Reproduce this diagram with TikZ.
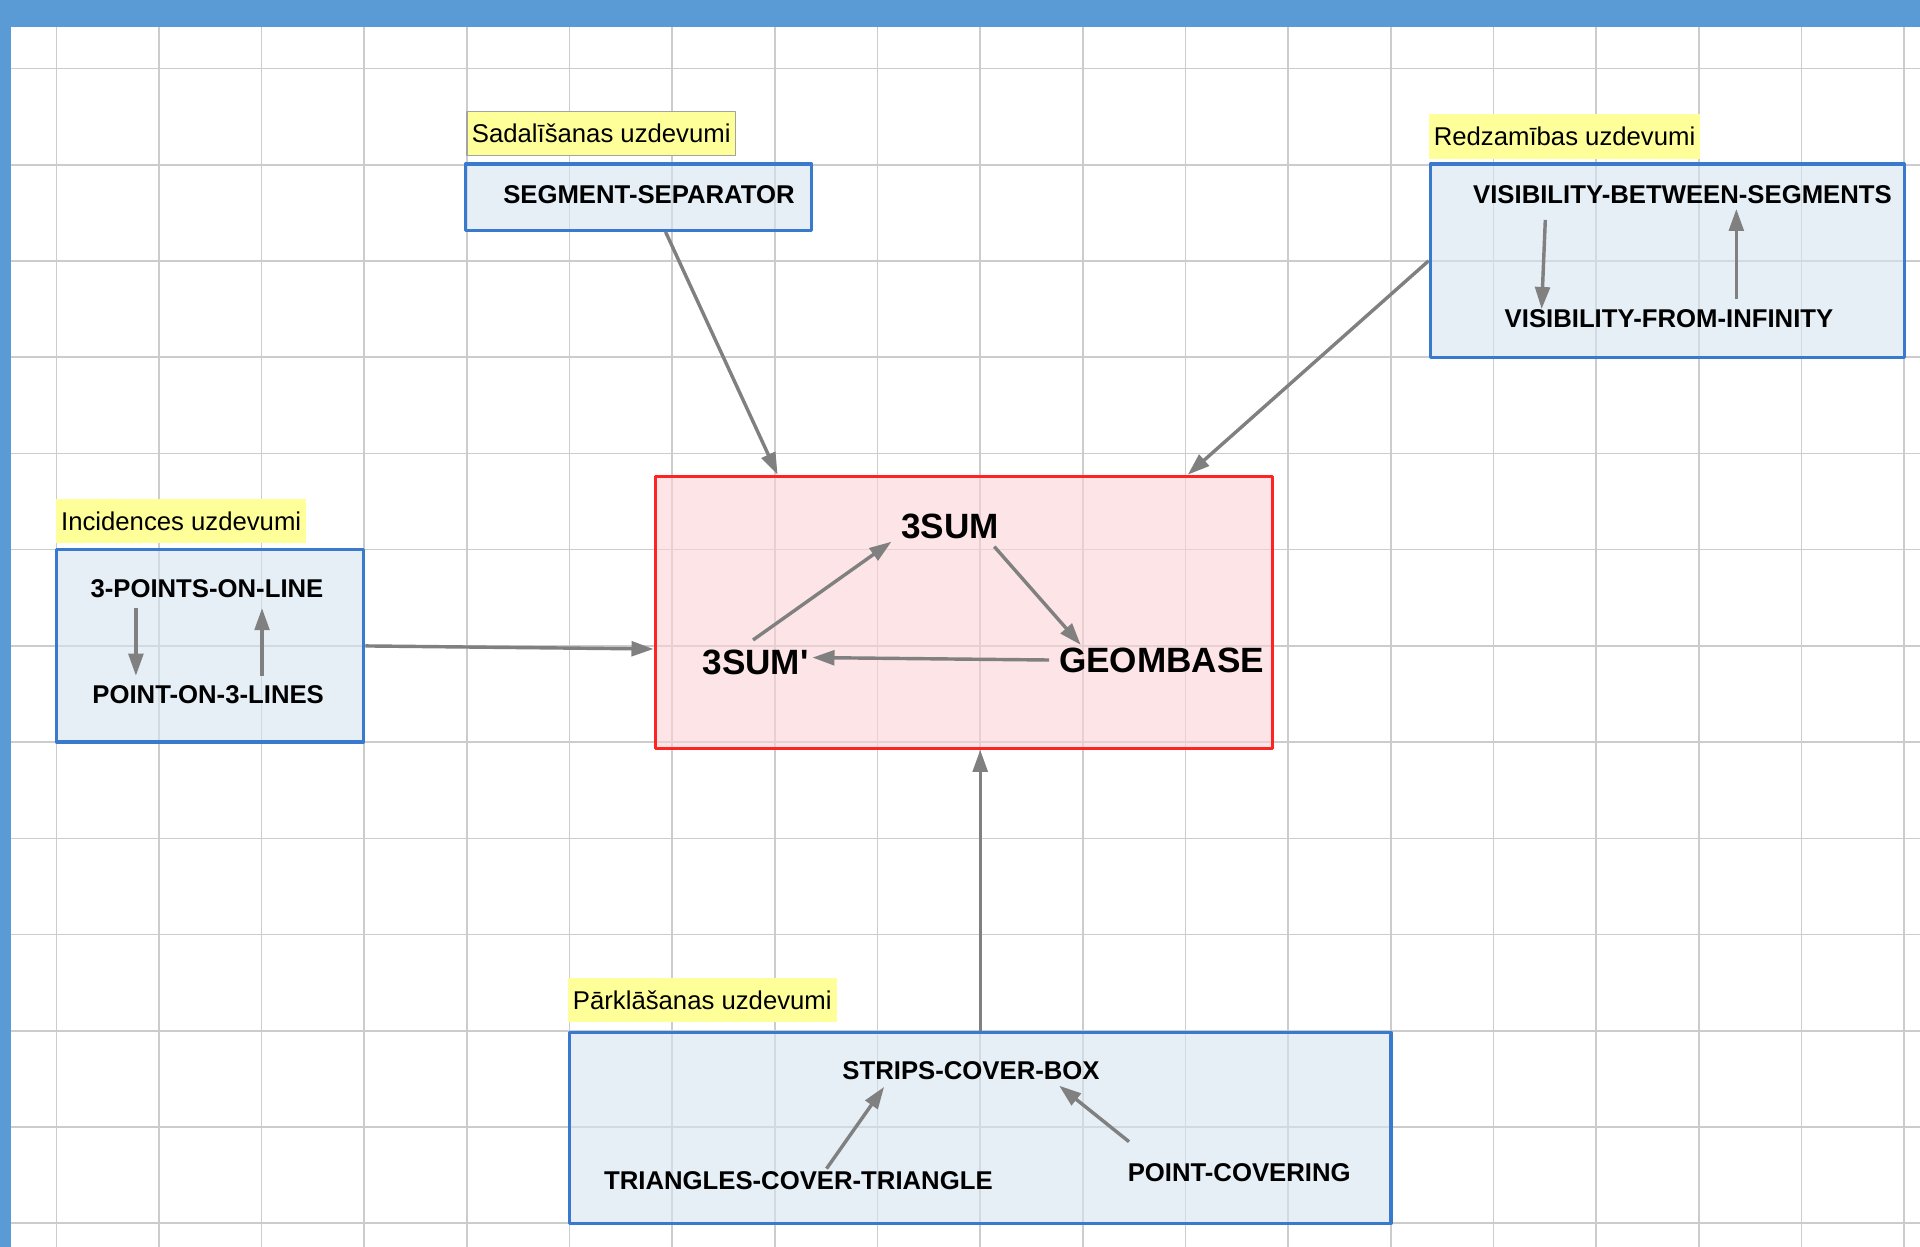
\documentclass[tikz,border=0pt]{standalone}
\usepackage{fontspec}
\setmainfont{Liberation Sans}
\usetikzlibrary{arrows.meta,positioning}
\definecolor{frameblue}{RGB}{91,155,213}
\definecolor{gridgray}{RGB}{204,204,204}
\definecolor{boxblue}{RGB}{58,122,206}
\definecolor{boxfill}{RGB}{213,227,240}
\definecolor{corered}{RGB}{255,36,36}
\definecolor{corefill}{RGB}{252,210,213}
\definecolor{tagyellow}{RGB}{255,255,153}
\definecolor{arrgray}{RGB}{128,128,128}
\tikzset{
	grpbox/.style={draw=boxblue, fill=boxfill, fill opacity=.6, line width=2.6pt, inner sep=0pt},
	corebox/.style={draw=corered, fill=corefill, fill opacity=.6, line width=2.6pt, inner sep=0pt},
	tagbox/.style={fill=tagyellow, inner xsep=4pt, inner ysep=0pt, minimum height=36pt, font=\fontsize{21}{25}\selectfont},
	itm/.style={inner sep=8pt, font=\fontsize{21}{25}\selectfont\bfseries},
	big/.style={inner sep=8pt, font=\fontsize{28.7}{33}\selectfont\bfseries},
	arr/.style={->, draw=arrgray, line width=2.8pt},
	gridline/.style={gridgray, line width=1.3pt}
}
\begin{document}
\begin{tikzpicture}[x=1pt, y=-1pt, line join=round, >={Triangle[length=18pt,width=12pt]}]
	\useasboundingbox (0,0) rectangle (1568,1018);
	% background grid
	\foreach \i in {0,...,18}
	\draw[gridline] ({46+83.83*\i},22) -- ({46+83.83*\i},1018);
	\foreach \j in {0,...,12}
	\draw[gridline] (9,{56+78.58*\j}) -- (1568,{56+78.58*\j});
	\fill[frameblue] (0,0) rectangle (1568,22);
	\fill[frameblue] (0,0) rectangle (9,1018);
	% group boxes
	\path
	(521.5,161) node[grpbox, minimum width=283pt, minimum height=54pt] (sepbox) {}
	(1361.5,213) node[grpbox, minimum width=387pt, minimum height=158pt] (visbox) {}
	(171.5,527.5) node[grpbox, minimum width=251pt, minimum height=157pt] (incbox) {}
	(800.5,921) node[grpbox, minimum width=671pt, minimum height=156pt] (covbox) {}
	(787,500) node[corebox, minimum width=504pt, minimum height=222pt] (core) {};
	\node[tagbox, draw=gridgray!80!black, line width=1.3pt, above right=5pt and 2pt of sepbox.north west] (septag) {Sadalīšanas uzdevumi};
	\node[tagbox, above right=3pt and 0pt of visbox.north west] (vistag) {Redzamības uzdevumi};
	\node[tagbox, above right=4pt and 1pt of incbox.north west] (inctag) {Incidences uzdevumi};
	\node[tagbox, above right=7pt and 0pt of covbox.north west] (covtag) {Pārklāšanas uzdevumi};
	% problems
	\path
	(530,159) node[itm] (seg) {SEGMENT-SEPARATOR}
	(1374,159) node[itm] (vbs) {VISIBILITY-BETWEEN-SEGMENTS}
	(1363,260) node[itm] (vfi) {VISIBILITY-FROM-INFINITY}
	(169,481) node[itm] (tpl) {3-POINTS-ON-LINE}
	(170,567.5) node[itm] (pol) {POINT-ON-3-LINES}
	(776,430) node[big] (sum) {3SUM}
	(617,541) node[big] (sump) {3SUM\textquotesingle}
	(948.6,539) node[big] (geo) {GEOMBASE}
	(793,874) node[itm] (scb) {STRIPS-COVER-BOX}
	(652,964) node[itm] (tct) {TRIANGLES-COVER-TRIANGLE}
	(1012,958) node[itm] (pcv) {POINT-COVERING};
	\draw[arr] ([xshift=22]sepbox.south)--([xshift=-152]core.north);
	\draw[arr] (visbox.west)--([xshift=183]core.north);
	\draw[arr] (incbox.east)--([yshift=-30]core.west);
	\draw[arr] (covbox.north)--(covbox.north |- core.south);
	\draw[arr] ([xshift=-58]tpl.south)--([xshift=-59]pol.north);
	\draw[arr] ([xshift=44]pol.north)--([xshift=45]tpl.south);
	\draw[arr] ([xshift=-112,yshift=-5]vbs.south)--([xshift=-104,yshift=-8]vfi.north);
	\draw[arr] ([xshift=55]vfi.north)--([xshift=44,yshift=4]vbs.south);
	\draw[arr] ([xshift=-2]sump.north)--([xshift=-48,yshift=6]sum.south);
	\draw[arr] ([xshift=36,yshift=2]sum.south)--([xshift=-66,yshift=-6]geo.north);
	\draw[arr] (geo.west)--([xshift=-5,yshift=4]sump.east);
	\draw[arr] ([xshift=23,yshift=-6]tct.north)--([xshift=-71,yshift=2]scb.south);
	\draw[arr] ([xshift=-90,yshift=10]pcv.north)--([xshift=72,yshift=3]scb.south);
\end{tikzpicture}
\end{document}
